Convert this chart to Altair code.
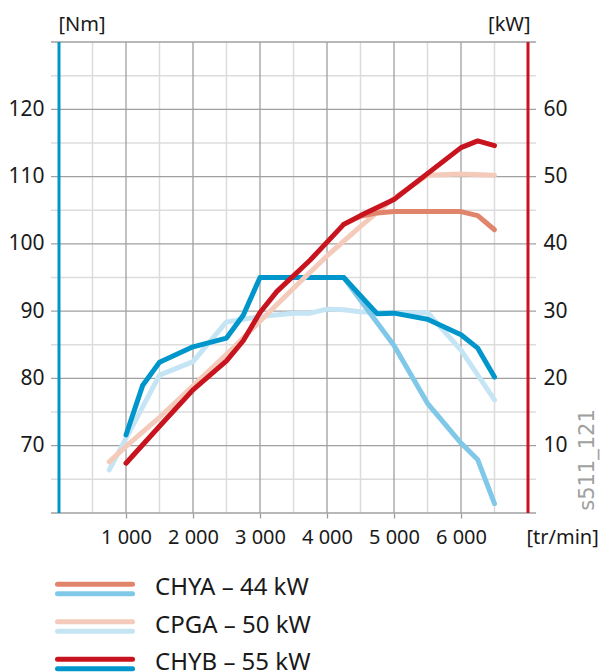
import altair as alt
import pandas as pd

# ---------------- data ----------------
# Torque curves (Nm, left axis)
chyb_t_rpm = [1000, 1250, 1500, 2000, 2500, 2750, 3000, 4250, 4750, 5000, 5500, 6000, 6250, 6500]
chyb_t_nm = [71.6, 79.0, 82.4, 84.7, 86.0, 89.4, 95.0, 95.0, 89.6, 89.7, 88.8, 86.5, 84.5, 80.2]
chya_t_rpm = [4250, 5000, 5500, 6000, 6250, 6500]
chya_t_nm = [95.0, 84.9, 76.3, 70.4, 67.9, 61.4]
cpga_t_rpm = [750, 1500, 2000, 2500, 3000, 3500, 3750, 4000, 4250, 4500, 5000, 5500, 6000, 6500]
cpga_t_nm = [66.4, 80.5, 82.5, 88.4, 89.2, 89.7, 89.7, 90.3, 90.2, 89.9, 89.7, 89.8, 84.2, 76.8]

# Power curves (kW, right axis)
chyb_p_rpm = [1000, 1500, 2000, 2500, 2750, 3000, 3250, 3750, 4250, 4500, 5000, 6000, 6250, 6500]
chyb_p_kw = [7.4, 12.9, 18.3, 22.6, 25.6, 29.8, 32.9, 37.6, 42.9, 44.2, 46.6, 54.3, 55.3, 54.6]
chya_p_rpm = [4250, 4500, 4750, 5000, 6000, 6250, 6500]
chya_p_kw = [42.9, 44.1, 44.6, 44.8, 44.8, 44.2, 42.1]
cpga_p_rpm = [750, 1000, 1500, 2000, 2500, 3000, 3500, 4000, 4500, 5000, 5500, 6000, 6500]
cpga_p_kw = [7.6, 9.9, 14.2, 18.9, 23.6, 28.5, 33.4, 38.2, 42.6, 46.8, 50.2, 50.4, 50.2]

# Axis ticks / grid
rpm_major = [1000, 2000, 3000, 4000, 5000, 6000]
rpm_minor = [500, 1500, 2500, 3500, 4500, 5500, 6500]
nm_major = [60, 70, 80, 90, 100, 110, 120, 130]
nm_minor = [65, 75, 85, 95, 105, 115, 125]
nm_labels = [70, 80, 90, 100, 110, 120]
kw_labels = [10, 20, 30, 40, 50, 60]
edge_rpm = [0, 7000]

# Legend
leg_rows = [0, 1, 2]
leg_labels = ["CHYA – 44 kW", "CPGA – 50 kW", "CHYB – 55 kW"]

# ---------------- style ----------------
C_CHYB_T = "#0096cc"
C_CHYB_P = "#c8141e"
C_CHYA_T = "#80c8e8"
C_CHYA_P = "#e0846c"
C_CPGA_T = "#c5e5f5"
C_CPGA_P = "#f4cbbb"
FONT = "Noto Sans"
TXT = "#1a1a1a"

xs = alt.Scale(domain=[-119.4, 7119.4], nice=False, zero=False)
ys_nm = alt.Scale(domain=[60, 130], nice=False, zero=False)
ys_kw = alt.Scale(domain=[0, 70], nice=False, zero=False)
ys_leg = alt.Scale(domain=[0, 2], range=[547, 622], nice=False, zero=False)

x_axis = alt.Axis(
    values=rpm_major,
    labelExpr="replace(format(datum.value, ','), ',', ' ')",
    grid=False, domain=False,
    tickSize=5, tickColor="#9a9a9a", tickWidth=1.3,
    labelFont=FONT, labelFontSize=20, labelColor=TXT,
    labelBaseline="alphabetic", labelPadding=25, labelOverlap=False,
    title="[tr/min]", titleFont=FONT, titleFontSize=20, titleFontWeight="normal",
    titleColor=TXT, titleX=475, titleY=30, titleAlign="left",
    titleBaseline="alphabetic", titleAnchor="start",
)
y_left = alt.Axis(
    orient="left", values=nm_labels, grid=False, domain=False, ticks=False,
    labelPadding=7, labelFont=FONT, labelFontSize=21, labelColor=TXT,
    title="[Nm]", titleFont=FONT, titleFontSize=20, titleFontWeight="normal",
    titleColor=TXT, titleAngle=0, titleAlign="left", titleBaseline="alphabetic",
    titleX=7, titleY=-12,
)
y_right = alt.Axis(
    orient="right", values=kw_labels, grid=False, domain=False, ticks=False,
    labelPadding=7, labelFont=FONT, labelFontSize=21, labelColor=TXT,
    title="[kW]", titleFont=FONT, titleFontSize=20, titleFontWeight="normal",
    titleColor=TXT, titleAngle=0, titleAlign="right", titleBaseline="alphabetic",
    titleX=-6, titleY=-12,
)

X = alt.X("rpm:Q", scale=xs, axis=x_axis)
Y_NM = alt.Y("nm:Q", scale=ys_nm, axis=y_left)
Y_KW = alt.Y("kw:Q", scale=ys_kw, axis=y_right)

# ---------------- grid ----------------
minor_v = alt.Chart(pd.DataFrame({"rpm": rpm_minor})).mark_rule(
    color="#dcdcdc", strokeWidth=1.5).encode(x=X)
minor_h = alt.Chart(pd.DataFrame({"nm": nm_minor})).mark_rule(
    color="#dcdcdc", strokeWidth=1.5).encode(y=Y_NM)
major_v = alt.Chart(pd.DataFrame({"rpm": rpm_major})).mark_rule(
    color="#a0a0a0", strokeWidth=1.3).encode(x=X)
major_h = alt.Chart(pd.DataFrame({"nm": nm_major})).mark_rule(
    color="#a0a0a0", strokeWidth=1.3).encode(y=Y_NM)
edges = alt.Chart(pd.DataFrame({"rpm": edge_rpm, "col": [C_CHYB_T, C_CHYB_P]})).mark_rule(
    strokeWidth=3).encode(x=X, color=alt.Color("col:N", scale=None))


def curve(rpm, vals, field, color, Y):
    df = pd.DataFrame({"rpm": rpm, field: vals})
    return alt.Chart(df).mark_line(
        color=color, strokeWidth=5, strokeCap="round", strokeJoin="round"
    ).encode(x=X, y=Y)


torque_group = alt.layer(
    minor_v, minor_h, major_v, major_h, edges,
    curve(cpga_t_rpm, cpga_t_nm, "nm", C_CPGA_T, Y_NM),
    curve(chya_t_rpm, chya_t_nm, "nm", C_CHYA_T, Y_NM),
    curve(chyb_t_rpm, chyb_t_nm, "nm", C_CHYB_T, Y_NM),
)
power_group = alt.layer(
    curve(cpga_p_rpm, cpga_p_kw, "kw", C_CPGA_P, Y_KW),
    curve(chya_p_rpm, chya_p_kw, "kw", C_CHYA_P, Y_KW),
    curve(chyb_p_rpm, chyb_p_kw, "kw", C_CHYB_P, Y_KW),
)

# ---------------- legend & stamp ----------------
leg_df = pd.DataFrame({
    "row": leg_rows,
    "label": leg_labels,
    "cp": [C_CHYA_P, C_CPGA_P, C_CHYB_P],
    "ct": [C_CHYA_T, C_CPGA_T, C_CHYB_T],
})
YL = alt.Y("row:Q", scale=ys_leg, axis=None)
leg_top = alt.Chart(leg_df).mark_rule(strokeWidth=5, strokeCap="round", yOffset=-4.7).encode(
    x=alt.value(6.5), x2=alt.value(81.5), y=YL, color=alt.Color("cp:N", scale=None))
leg_bot = alt.Chart(leg_df).mark_rule(strokeWidth=5, strokeCap="round", yOffset=4.7).encode(
    x=alt.value(6.5), x2=alt.value(81.5), y=YL, color=alt.Color("ct:N", scale=None))
leg_txt = alt.Chart(leg_df).mark_text(
    align="left", baseline="middle", font=FONT, fontSize=24, color=TXT, dy=-1
).encode(x=alt.value(104), y=YL, text="label:N")
stamp = alt.Chart(pd.DataFrame({"t": ["s511_121"]})).mark_text(
    angle=270, align="center", baseline="middle", font="DejaVu Sans",
    fontSize=21, color="#a0a0a0"
).encode(x=alt.value(537), y=alt.value(418), text="t:N")

legend_group = alt.layer(leg_top, leg_bot, leg_txt, stamp)

chart = alt.layer(torque_group, power_group, legend_group).resolve_scale(
    y="independent"
).properties(
    width=485, height=471,
    padding={"left": 51, "top": 42, "right": 65, "bottom": 159},
    autosize=alt.AutoSizeParams(type="none"),
    background="white",
).configure_view(strokeWidth=0)

chart.save("out.html", embed_options={"renderer": "svg", "actions": False})
